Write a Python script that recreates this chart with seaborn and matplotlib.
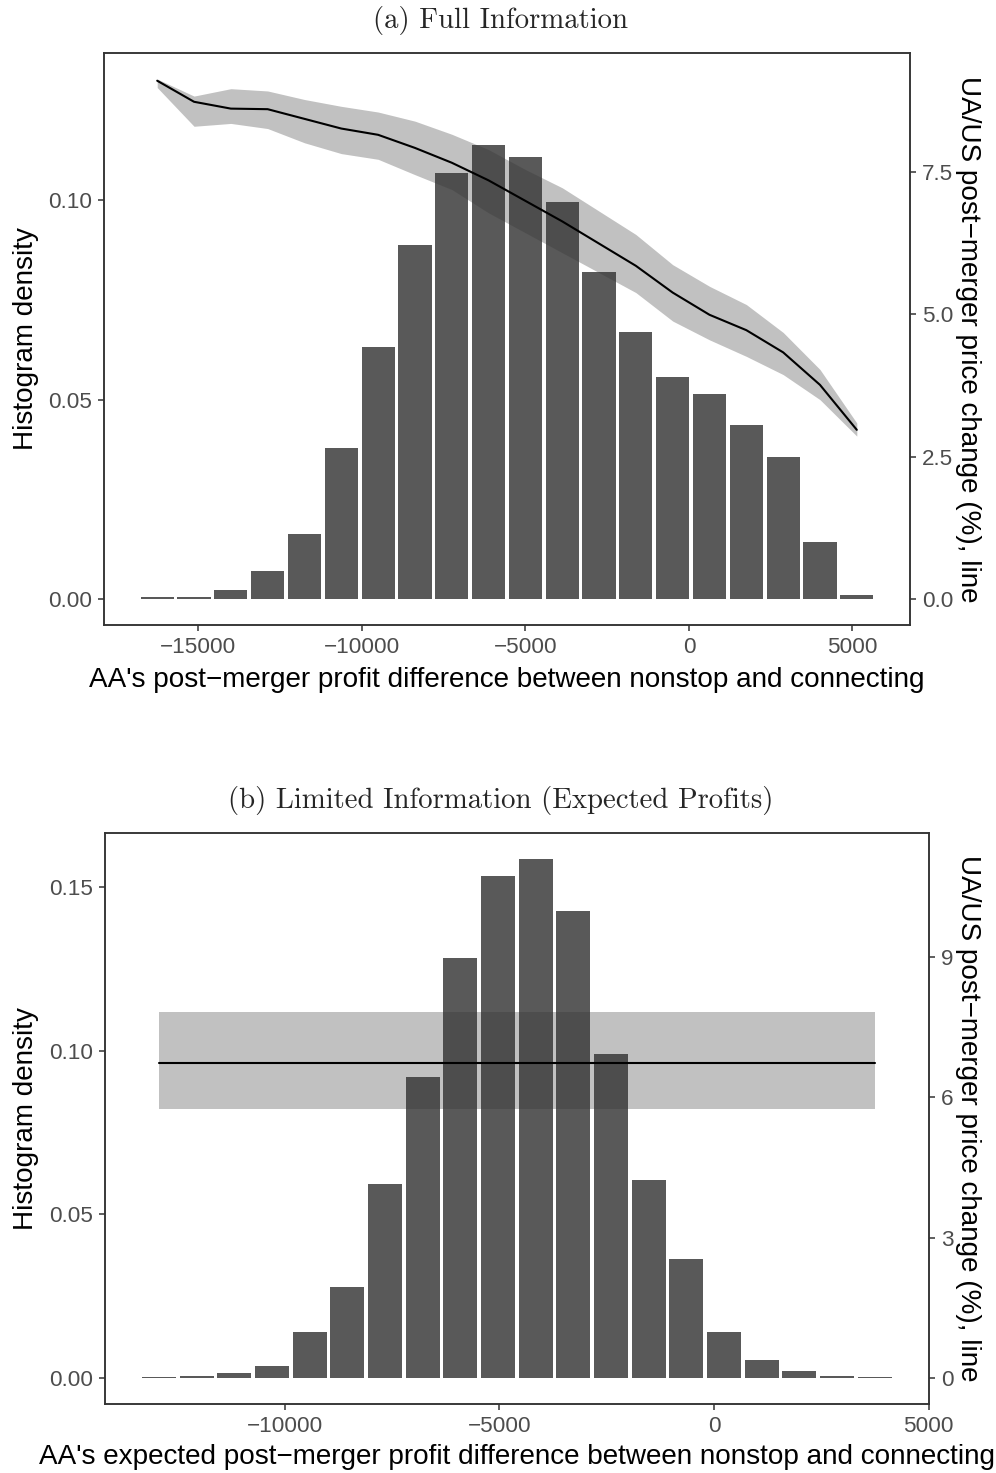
import numpy as np
import seaborn as sns
import matplotlib
matplotlib.use("Agg")
import matplotlib.pyplot as plt

# ---- panel (a): full information ----
full_x = [-16258, -15132, -14006, -12881, -11755, -10629, -9503, -8377, -7252, -6126,
          -5000, -3874, -2748, -1623, -497, 629, 1755, 2881, 4006, 5132]
full_density = [0.0004, 0.0004, 0.0023, 0.0071, 0.0164, 0.0379, 0.0632, 0.0887, 0.1068, 0.1138,
                0.1108, 0.0995, 0.0820, 0.0669, 0.0557, 0.0514, 0.0437, 0.0357, 0.0144, 0.0011]
full_price = [9.10, 8.73, 8.61, 8.60, 8.43, 8.26, 8.15, 7.92, 7.66, 7.35,
              6.99, 6.63, 6.24, 5.85, 5.38, 4.99, 4.72, 4.33, 3.76, 2.97]
full_upper = [9.13, 8.83, 8.96, 8.92, 8.77, 8.65, 8.55, 8.39, 8.16, 7.89,
              7.54, 7.22, 6.81, 6.40, 5.87, 5.49, 5.17, 4.68, 4.03, 3.09]
full_lower = [8.98, 8.30, 8.35, 8.26, 8.01, 7.82, 7.72, 7.45, 7.19, 6.78,
              6.43, 6.08, 5.73, 5.38, 4.88, 4.55, 4.26, 3.94, 3.50, 2.86]

# ---- panel (b): limited information ----
lim_x = [-12920, -12043, -11166, -10290, -9413, -8536, -7659, -6783, -5906, -5029,
         -4152, -3275, -2399, -1522, -645, 232, 1109, 1985, 2862, 3739]
lim_density = [0.0003, 0.0006, 0.0014, 0.0036, 0.0142, 0.0279, 0.0593, 0.0918, 0.1283, 0.1533,
               0.1585, 0.1426, 0.0988, 0.0605, 0.0364, 0.0142, 0.0054, 0.0020, 0.0005, 0.0002]
lim_price = [6.73, 6.73, 6.73, 6.73, 6.73, 6.73, 6.73, 6.73, 6.73, 6.73,
             6.73, 6.73, 6.73, 6.73, 6.73, 6.73, 6.73, 6.73, 6.73, 6.73]
lim_upper = [7.83, 7.83, 7.83, 7.83, 7.83, 7.83, 7.83, 7.83, 7.83, 7.83,
             7.83, 7.83, 7.83, 7.83, 7.83, 7.83, 7.83, 7.83, 7.83, 7.83]
lim_lower = [5.75, 5.75, 5.75, 5.75, 5.75, 5.75, 5.75, 5.75, 5.75, 5.75,
             5.75, 5.75, 5.75, 5.75, 5.75, 5.75, 5.75, 5.75, 5.75, 5.75]

# tick labels
full_xticks = [-15000, -10000, -5000, 0, 5000]
lim_xticks = [-10000, -5000, 0, 5000]
full_yticks = ["0.00", "0.05", "0.10"]
lim_yticks = ["0.00", "0.05", "0.10", "0.15"]
full_rticks = ["0.0", "2.5", "5.0", "7.5"]
lim_rticks = ["0", "3", "6", "9"]

SEC_SCALE = 70  # secondary axis = primary * 70

sns.set_style("white")
plt.rcParams["font.family"] = ["Liberation Sans", "DejaVu Sans"]

W, H = 996, 1473
fig = plt.figure(figsize=(W / 100, H / 100), dpi=100)

TICK_COL = "#4d4d4d"
SPINE_COL = "#333333"
LABEL_SIZE = 20.1


def draw_panel(rect, xs, dens, price, lo, hi, xticks, yticks, rticks, xlabel, label_y):
    ax = fig.add_axes(rect)
    xs = np.array(xs, dtype=float)
    w = xs[1] - xs[0]
    sns.histplot(x=xs, weights=dens, bins=len(xs),
                 binrange=(xs[0] - w / 2, xs[-1] + w / 2),
                 shrink=0.9, color="#595959", alpha=1, linewidth=0, ax=ax)

    ax2 = ax.twinx()
    ax2.fill_between(xs, lo, hi, color="#333333", alpha=0.3, linewidth=0)
    sns.lineplot(x=xs, y=price, color="black", linewidth=1.5, ax=ax2)

    # ggplot-like 5% expansion
    x0, x1 = xs[0] - 0.45 * w, xs[-1] + 0.45 * w
    span = x1 - x0
    ax.set_xlim(x0 - 0.05 * span, x1 + 0.05 * span)
    m = max(max(dens), max(hi) / SEC_SCALE)
    ax.set_ylim(-0.05 * m, 1.05 * m)
    ax2.set_ylim(-0.05 * m * SEC_SCALE, 1.05 * m * SEC_SCALE)

    ax.set_xticks(xticks)
    ax.set_yticks([float(t) for t in yticks], labels=yticks)
    ax2.set_yticks([float(t) for t in rticks], labels=rticks)

    for a in (ax, ax2):
        for s in a.spines.values():
            s.set_visible(True)
            s.set_color(SPINE_COL)
            s.set_linewidth(1.1)
        a.tick_params(axis="both", which="major", length=4.5, width=1.1, color=SPINE_COL,
                      labelsize=16.2, labelcolor=TICK_COL, pad=4)
        a.grid(False)
    ax.tick_params(axis="y", left=True, right=False)
    ax.tick_params(axis="x", bottom=True)
    ax2.tick_params(axis="y", right=True, left=False)

    ax.set_xlabel(xlabel, fontsize=LABEL_SIZE, color="black", ha="center", va="center")
    ax.xaxis.set_label_coords(0.5, label_y)
    ax.set_ylabel("Histogram density", fontsize=LABEL_SIZE, color="black",
                  ha="center", va="center")
    ax.yaxis.set_label_coords((26 - rect[0] * W) / (rect[2] * W), 0.5)
    ax2.set_ylabel("UA/US post\u2212merger price change (%), line", fontsize=LABEL_SIZE,
                   color="black", rotation=270, ha="center", va="center")
    ax2.yaxis.set_label_coords((968 - rect[0] * W) / (rect[2] * W), 0.5)
    return ax, ax2


rect_a = [104 / W, 1 - 625 / H, 806 / W, 572 / H]
rect_b = [104.7 / W, 1 - 1404 / H, 824.3 / W, 571 / H]

draw_panel(rect_a, full_x, full_density, full_price, full_lower, full_upper,
           full_xticks, full_yticks, full_rticks,
           "AA's post\u2212merger profit difference between nonstop and connecting",
           (625 - 680) / 572)
draw_panel(rect_b, lim_x, lim_density, lim_price, lim_lower, lim_upper,
           lim_xticks, lim_yticks, lim_rticks,
           "AA's expected post\u2212merger profit difference between nonstop and connecting",
           (1404 - 1457) / 571)

fig.text(0.5025, 1 - 20 / H, "(a) Full Information", family="cmr10", size=20.7,
         ha="center", va="center")
fig.text(0.5025, 1 - 800 / H, "(b) Limited Information (Expected Profits)", family="cmr10",
         size=20.7, ha="center", va="center")

fig.savefig("out.png", dpi=100, facecolor="white")
